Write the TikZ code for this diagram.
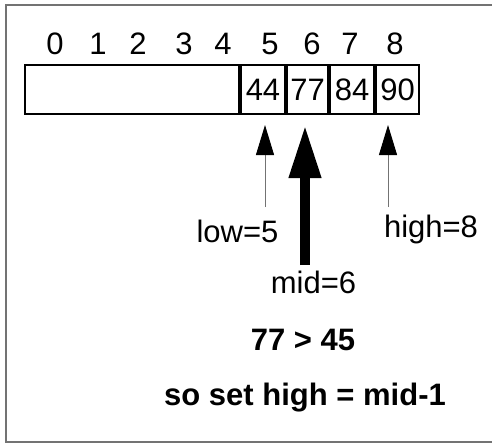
\documentclass[tikz,border=0pt]{standalone}
\usepackage{fontspec}
\setmainfont{Liberation Sans}
\usetikzlibrary{arrows.meta}
\tikzset{
  index label/.style={
    anchor=base,
    inner sep=0pt,
    font=\fontsize{31}{34}\selectfont
  },
  cell/.style={
    draw,
    line width=2pt,
    minimum height=49pt,
    inner sep=0pt,
    font=\fontsize{31}{34}\selectfont
  },
  pointer label/.style={
    anchor=base,
    inner sep=0pt,
    font=\fontsize{31}{34}\selectfont
  },
  note label/.style={
    anchor=base,
    inner sep=0pt,
    font=\fontsize{31}{34}\selectfont\bfseries
  },
  thin pointer/.style={
    -{Triangle[length=30pt, width=18pt, color=black]},
    line width=1pt,
    color=black!55
  },
  mid pointer/.style={
    -{Triangle[length=53pt, width=30pt]},
    line width=10pt,
    color=black
  },
  frame/.style={
    line width=2pt,
    color=black!55
  }
}

\begin{document}
\begin{tikzpicture}[x=1pt, y=-1pt]

  \useasboundingbox (0,0) rectangle (492,444);

  %% ---- outer frame (open on the right) ----
  \draw[frame] (492,5.5) -- (6,5.5) -- (6,442) -- (492,442);

  %% ---- indices 0..8 ----
  \foreach \i/\x in {0/55, 1/98, 2/138, 3/184, 4/223, 5/270, 6/312, 7/350, 8/395}
    \node[index label] (idx\i) at (\x,55) {\i};

  %% ---- the array: empty part, then cells 5..8 ----
  \node[cell, minimum width=214pt] (rest) at (132,89.5) {};
  \node[cell, minimum width=44pt, anchor=west] (c5) at (rest.east) {44};
  \node[cell, minimum width=41pt, anchor=west] (c6) at (c5.east) {77};
  \node[cell, minimum width=44pt, anchor=west] (c7) at (c6.east) {84};
  \node[cell, minimum width=43pt, anchor=west] (c8) at (c7.east) {90};

  %% ---- low / mid / high ----
  \coordinate (lowtail)  at (265,207);
  \coordinate (midtail)  at (305,265);
  \coordinate (hightail) at (388,207);

  \draw[thin pointer] (lowtail)  -- (lowtail |- 0,125);
  \draw[mid pointer]  (midtail)  -- (midtail |- 0,125);
  \draw[thin pointer] (hightail) -- (hightail |- 0,125);

  \node[pointer label] (low)  at (237.5,242) {low=5};
  \node[pointer label] (high) at (431,237)   {high=8};
  \node[pointer label] (mid)  at (313.5,293) {mid=6};

  %% ---- comparison ----
  \node[note label] (cmp)  at (303,350) {77 > 45};
  \node[note label] (step) at (305,405) {so set high = mid-1};

\end{tikzpicture}
\end{document}
